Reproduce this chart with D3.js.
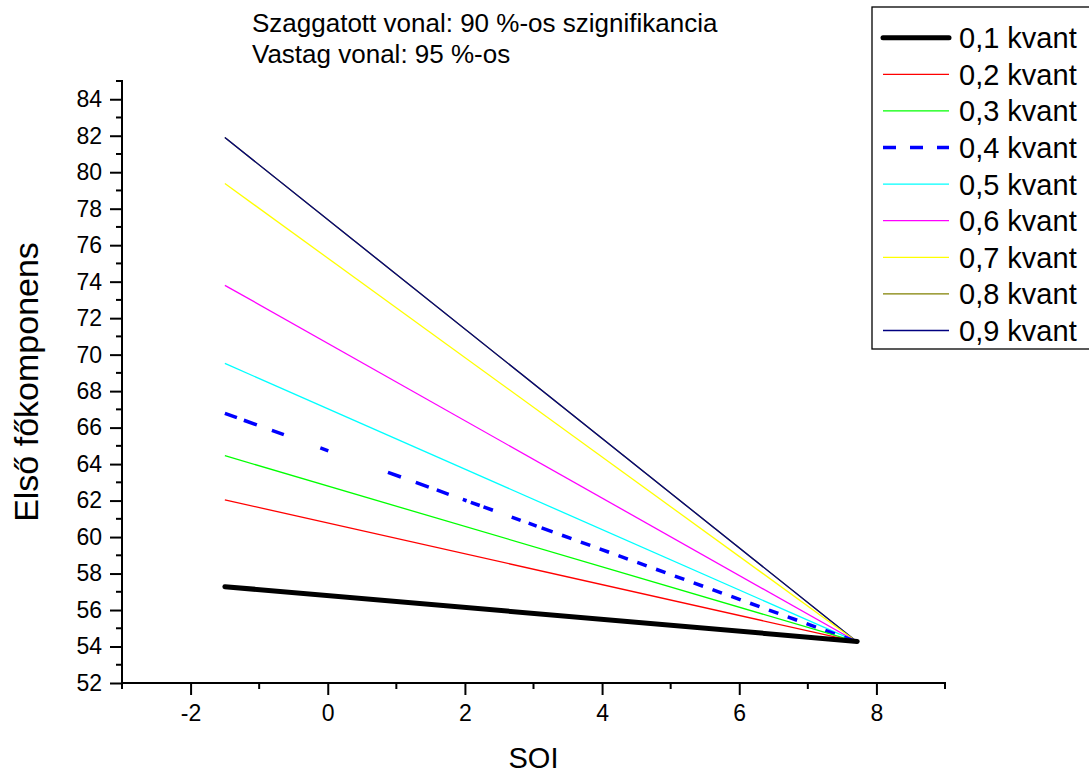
<!DOCTYPE html>
<html>
<head>
<meta charset="utf-8">
<script src="https://cdnjs.cloudflare.com/ajax/libs/d3/7.8.5/d3.min.js"></script>
<style>
  body { margin: 0; background: #fff; }
  svg { display: block; font-family: Arial, "Liberation Sans", sans-serif; }
</style>
</head>
<body>
<svg id="chart"></svg>
<script>
// data
const quantiles = ["0,1 kvant", "0,2 kvant", "0,3 kvant", "0,4 kvant", "0,5 kvant", "0,6 kvant", "0,7 kvant", "0,8 kvant", "0,9 kvant"];
const soi = [-1.5, 7.72];
const startValues = [57.28, 62.04, 64.46, 66.78, 69.52, 73.8, 79.38, 81.9, 81.9];
const endValues = [54.28, 54.25, 54.25, 54.25, 54.25, 54.25, 54.25, 54.25, 54.25];
const xTicks = [-2, 0, 2, 4, 6, 8];
const yTicks = [52, 54, 56, 58, 60, 62, 64, 66, 68, 70, 72, 74, 76, 78, 80, 82, 84];
const titleLines = ["Szaggatott vonal: 90 %-os szignifikancia", "Vastag vonal: 95 %-os"];

let width = 1089;
let height = 774;

const colors = ["#000000", "#ff0000", "#00ff00", "#0000ff", "#00ffff", "#ff00ff", "#ffff00", "#808000", "#000080"];
const widths = [5, 1.3, 1.3, 3.5, 1.3, 1.3, 1.3, 1.3, 1.3];

let svg = d3.select("#chart")
    .attr("width", width)
    .attr("height", height);

let x = d3.scaleLinear().domain([-3, 9]).range([122, 945]);
let y = d3.scaleLinear().domain([52, 85]).range([683, 81]);

// the dashed line in the original has uneven gaps
let dashHead = [12.8, 7.4, 13.8, 16, 12.7, 38.8, 8.5, 63.4, 13.8, 15.8, 13.8, 8.5, 12.7, 15, 4, 4.5, 9.5, 4, 10, 20, 9.5, 8.5, 8.5, 5.3, 11.7];
let dashTail = d3.range(40).flatMap(() => [10, 10]);
let plotDash = dashHead.concat(dashTail).join(",");

// lines
let line = d3.line()
    .x((d) => x(d[0]))
    .y((d) => y(d[1]));

let series = quantiles.map((q, i) => ({
    key: q,
    i: i,
    points: [[soi[0], startValues[i]], [soi[1], endValues[i]]]
}));

// draw from top quantile down so the thick black one ends up on top
let order = [7, 8, 6, 5, 4, 3, 2, 1, 0];
svg.append("g").selectAll("path")
    .data(order.map((i) => series[i]))
    .enter().append("path")
    .attr("d", (d) => line(d.points))
    .style("fill", "none")
    .style("stroke", (d) => colors[d.i])
    .style("stroke-width", (d) => widths[d.i])
    .style("stroke-linecap", (d) => d.i == 0 ? "round" : "butt")
    .style("stroke-dasharray", (d) => d.i == 3 ? plotDash : null);

// axes
let fmt = (d) => String(d);
let xAxis = svg.append("g")
    .attr("transform", `translate(0,${y(52)})`)
    .call(d3.axisBottom(x).tickValues(xTicks).tickSize(12).tickPadding(10).tickFormat(fmt));
xAxis.append("g").selectAll("line")
    .data(d3.range(-3, 10, 2))
    .enter().append("line")
    .attr("x1", (d) => x(d)).attr("x2", (d) => x(d))
    .attr("y1", 0).attr("y2", 6);

let yAxis = svg.append("g")
    .attr("transform", `translate(${x(-3)},0)`)
    .call(d3.axisLeft(y).tickValues(yTicks).tickSize(12).tickPadding(8).tickFormat(fmt));
yAxis.append("g").selectAll("line")
    .data(d3.range(53, 86, 2))
    .enter().append("line")
    .attr("y1", (d) => y(d)).attr("y2", (d) => y(d))
    .attr("x1", 0).attr("x2", -6);

[xAxis, yAxis].forEach(function(a){
    a.select(".domain").attr("d", null);
    a.selectAll("line").style("stroke", "#000").style("stroke-width", 2);
    a.selectAll("text").style("font-size", "23px").style("fill", "#000").style("font-family", "Arial, 'Liberation Sans', sans-serif");
});
svg.append("line")
    .attr("x1", x(-3) - 1).attr("x2", x(9) + 1)
    .attr("y1", y(52)).attr("y2", y(52))
    .style("stroke", "#000").style("stroke-width", 2);
svg.append("line")
    .attr("x1", x(-3)).attr("x2", x(-3))
    .attr("y1", y(52) + 1).attr("y2", y(85) - 1)
    .style("stroke", "#000").style("stroke-width", 2);

// axis titles
svg.append("text")
    .attr("x", (x(-3) + x(9)) / 2)
    .attr("y", 768)
    .style("text-anchor", "middle")
    .style("font-size", "29px")
    .text("SOI");
svg.append("text")
    .attr("transform", `translate(38,${(y(52) + y(85)) / 2}) rotate(-90)`)
    .style("text-anchor", "middle")
    .style("font-size", "34px")
    .text("Első főkomponens");

// title
svg.append("g").selectAll("text")
    .data(titleLines)
    .enter().append("text")
    .attr("x", 252)
    .attr("y", (d, i) => 32 + i * 31)
    .style("font-size", "26px")
    .text((d) => d);

// legend
let legend = svg.append("g");
legend.append("rect")
    .attr("x", 872)
    .attr("y", 7)
    .attr("width", 240)
    .attr("height", 342)
    .style("fill", "#fff")
    .style("stroke", "#000")
    .style("stroke-width", 1.3);
let rows = legend.selectAll("g.row")
    .data(series)
    .enter().append("g")
    .attr("class", "row")
    .attr("transform", (d, i) => `translate(0,${37.7 + i * 36.6})`);
rows.append("line")
    .attr("x1", 883).attr("x2", 949)
    .attr("y1", 0).attr("y2", 0)
    .style("stroke", (d) => colors[d.i])
    .style("stroke-width", (d) => widths[d.i])
    .style("stroke-linecap", (d) => d.i == 0 ? "round" : "butt")
    .style("stroke-dasharray", (d) => d.i == 3 ? "13,14" : null);
rows.append("text")
    .attr("x", 959)
    .attr("y", 10.5)
    .style("font-size", "29px")
    .text((d) => d.key);
</script>
</body>
</html>
